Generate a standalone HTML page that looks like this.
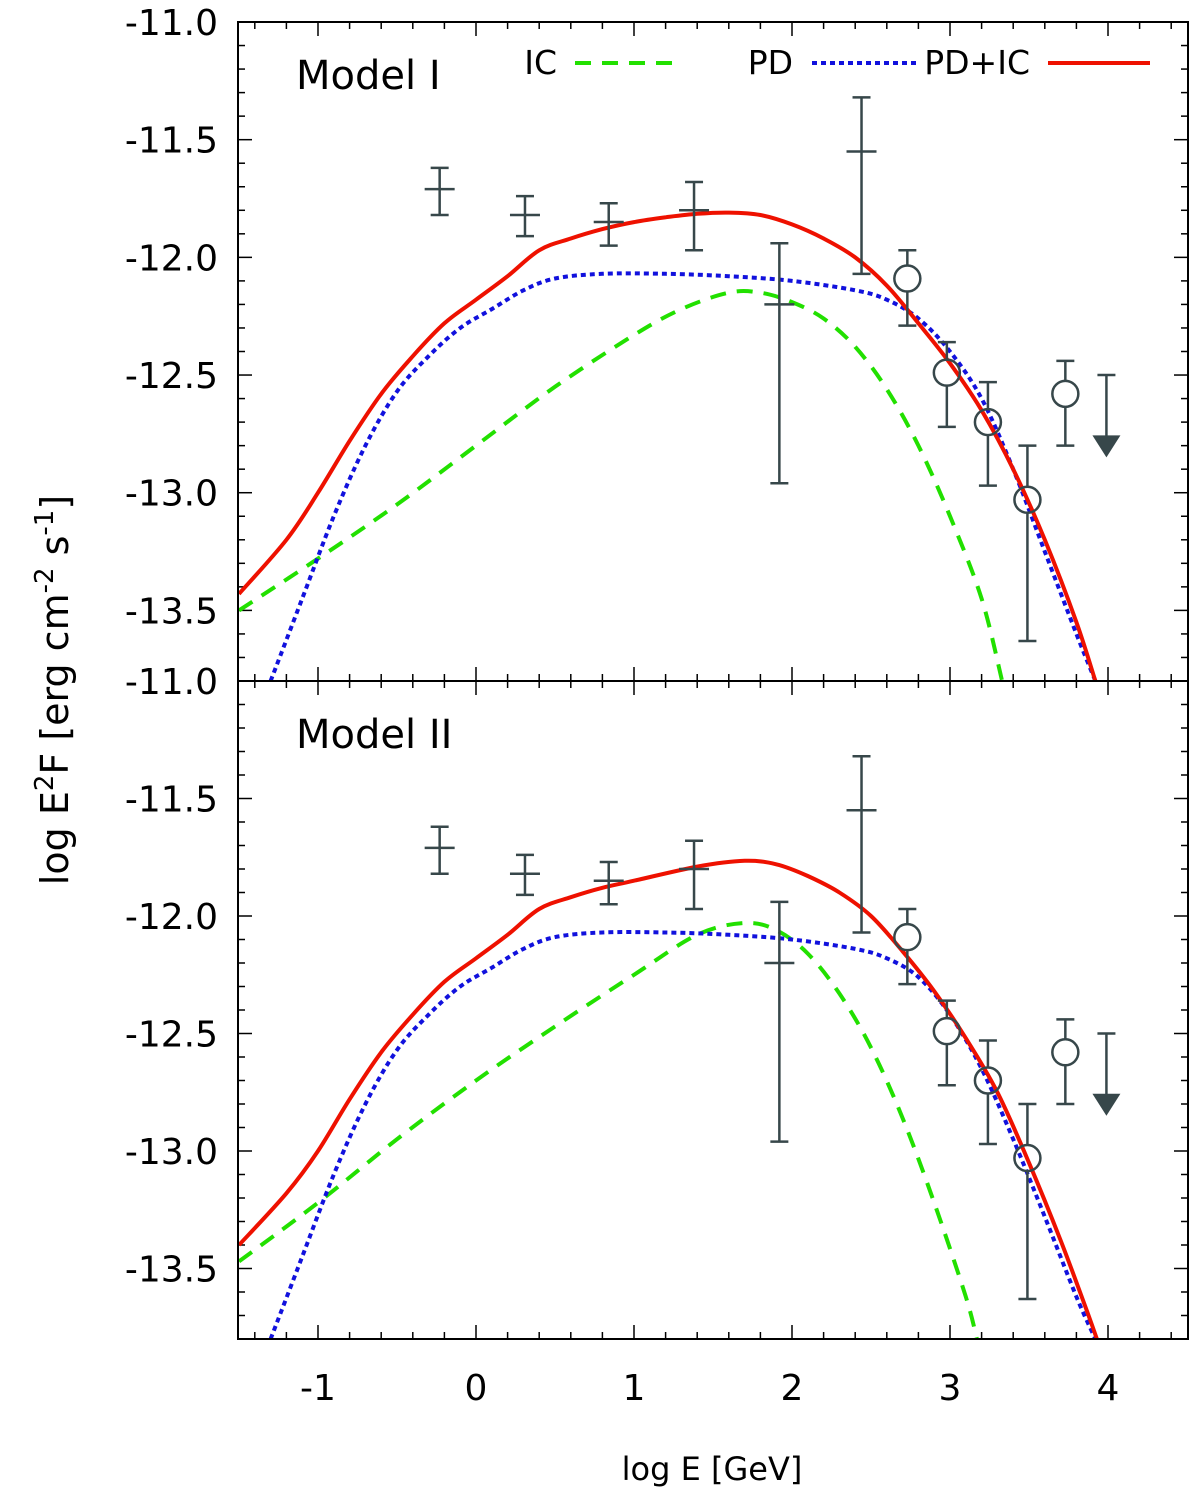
<!DOCTYPE html>
<html><head><meta charset="utf-8">
<style>
html,body{margin:0;padding:0;background:#fff;}
svg{display:block;font-family:"DejaVu Sans","Liberation Sans",sans-serif;}
</style></head>
<body>
<svg id="chart" width="1200" height="1502" viewBox="0 0 1200 1502" xmlns="http://www.w3.org/2000/svg">
<g id="layer"></g>
</svg>
<script>
// ---- data ----
const xTicks = [-1,0,1,2,3,4];
const yTicks = [-11.5,-12.0,-12.5,-13.0,-13.5];
const fermiX = [-0.23,0.31,0.84,1.38,1.92,2.44];
const fermiY = [-11.71,-11.82,-11.85,-11.80,-12.20,-11.55];
const fermiHi = [-11.62,-11.74,-11.77,-11.68,-11.94,-11.32];
const fermiLo = [-11.82,-11.91,-11.95,-11.97,-12.96,-12.07];
const circX = [2.73,2.98,3.24,3.49,3.73];
const circY = [-12.09,-12.49,-12.70,-13.03,-12.58];
const circHi = [-11.97,-12.36,-12.53,-12.80,-12.44];
const circLo = [-12.29,-12.72,-12.97,-13.63,-12.80];
const ulX = [3.99];
const ulY = [-12.50];
const ulTip = [-12.85];

const redX1 = [-1.5,-1.2,-1,-0.8,-0.6,-0.4,-0.2,0,0.2,0.4,0.6,0.8,1,1.2,1.4,1.6,1.8,2.0,2.2,2.4,2.6,2.8,3.0,3.2,3.4,3.6,3.8,3.92];
const redY1 = [-13.43,-13.2,-13.0,-12.78,-12.58,-12.42,-12.28,-12.18,-12.08,-11.97,-11.92,-11.88,-11.85,-11.83,-11.815,-11.81,-11.82,-11.86,-11.92,-12.0,-12.12,-12.28,-12.45,-12.65,-12.9,-13.2,-13.55,-13.8];
const blueX1 = [-1.3,-1.1,-0.9,-0.7,-0.5,-0.3,-0.1,0.1,0.3,0.5,0.8,1.2,1.6,2.0,2.4,2.6,2.8,3.0,3.2,3.4,3.6,3.8,3.92];
const blueY1 = [-13.8,-13.45,-13.1,-12.8,-12.57,-12.42,-12.3,-12.22,-12.14,-12.09,-12.07,-12.07,-12.08,-12.1,-12.14,-12.18,-12.26,-12.4,-12.6,-12.9,-13.25,-13.6,-13.8];
const greenX1 = [-1.5,-1,-0.5,0,0.5,1,1.3,1.6,1.8,2.0,2.2,2.4,2.6,2.8,3.0,3.2,3.33];
const greenY1 = [-13.5,-13.28,-13.05,-12.8,-12.55,-12.33,-12.22,-12.15,-12.15,-12.19,-12.26,-12.38,-12.56,-12.8,-13.1,-13.45,-13.8];

const redX2 = [-1.5,-1.2,-1,-0.8,-0.6,-0.4,-0.2,0,0.2,0.4,0.6,0.8,1,1.4,1.7,1.9,2.1,2.3,2.5,2.7,2.9,3.1,3.3,3.5,3.7,3.85,3.93];
const redY2 = [-13.4,-13.18,-13.0,-12.78,-12.58,-12.42,-12.28,-12.18,-12.08,-11.97,-11.92,-11.88,-11.85,-11.79,-11.765,-11.78,-11.83,-11.9,-12.0,-12.15,-12.32,-12.52,-12.75,-13.05,-13.38,-13.65,-13.8];
const blueX2 = [-1.3,-1.1,-0.9,-0.7,-0.5,-0.3,-0.1,0.1,0.3,0.5,0.8,1.2,1.6,2.0,2.4,2.6,2.8,3.0,3.2,3.4,3.6,3.8,3.92];
const blueY2 = [-13.8,-13.45,-13.1,-12.8,-12.57,-12.42,-12.3,-12.22,-12.14,-12.09,-12.07,-12.07,-12.08,-12.1,-12.14,-12.18,-12.26,-12.42,-12.65,-12.95,-13.28,-13.62,-13.8];
const greenX2 = [-1.5,-1,-0.5,0,0.5,1,1.4,1.7,1.9,2.1,2.3,2.5,2.7,2.9,3.1,3.17];
const greenY2 = [-13.47,-13.22,-12.95,-12.7,-12.47,-12.25,-12.08,-12.03,-12.06,-12.16,-12.33,-12.56,-12.86,-13.22,-13.62,-13.8];

// ---- layout ----
const NS = "http://www.w3.org/2000/svg";
const L = 238, R = 1188;
const X0 = -1.5063, X1 = 4.5063;
const YTOP = -11.0, YBOT = -13.8;
const panels = [{top:22,bot:681,name:"model-1"},{top:681,bot:1339,name:"model-2"}];
const layer = document.getElementById("layer");
function sx(v){return L + (v - X0)/(X1 - X0)*(R - L);}
function mkY(p){return v => p.top + (YTOP - v)/(YTOP - YBOT)*(p.bot - p.top);}
function el(tag, attrs, parent){
  const e = document.createElementNS(NS, tag);
  for (const k in attrs) e.setAttribute(k, attrs[k]);
  (parent||layer).appendChild(e);
  return e;
}
function smooth(pts){
  let d = "M" + pts[0][0].toFixed(1) + "," + pts[0][1].toFixed(1);
  for (let i = 0; i < pts.length - 1; i++) {
    const p0 = pts[Math.max(0, i - 1)], p1 = pts[i], p2 = pts[i + 1], p3 = pts[Math.min(pts.length - 1, i + 2)];
    const c1x = p1[0] + (p2[0] - p0[0]) / 6, c1y = p1[1] + (p2[1] - p0[1]) / 6;
    const c2x = p2[0] - (p3[0] - p1[0]) / 6, c2y = p2[1] - (p3[1] - p1[1]) / 6;
    d += " C" + c1x.toFixed(1) + "," + c1y.toFixed(1) + " " + c2x.toFixed(1) + "," + c2y.toFixed(1) + " " + p2[0].toFixed(1) + "," + p2[1].toFixed(1);
  }
  return d;
}
const axisCol = "#000";
const dataCol = "#37474a";

const series = [
  [greenX1,greenY1,redX1,redY1,blueX1,blueY1],
  [greenX2,greenY2,redX2,redY2,blueX2,blueY2]
];

panels.forEach((p, pi) => {
  const sy = mkY(p);
  const g = el("g", {});
  
  
  const cid = "clip" + pi;
  const cp = el("clipPath", {id: cid}, g);
  el("rect", {x: L, y: p.top, width: R - L, height: p.bot - p.top}, cp);

  for (let k = -7; k <= 22; k++) {
    const v = k * 0.2;
    const major = k % 5 === 0;
    const len = major ? 14 : 7;
    const x = sx(v);
    const t1 = el("line", {x1: x, x2: x, y1: p.bot, y2: p.bot - len, stroke: axisCol, "stroke-width": 1.5}, g);
    
    
    const t2 = el("line", {x1: x, x2: x, y1: p.top, y2: p.top + len, stroke: axisCol, "stroke-width": 1.5}, g);
    
    
  }
  for (let k = 0; k <= 28; k++) {
    const v = YTOP - k * 0.1;
    const major = k % 5 === 0;
    const len = major ? 14 : 7;
    const y = sy(v);
    const t = el("line", {x1: L, x2: L + len, y1: y, y2: y, stroke: axisCol, "stroke-width": 1.5}, g);
    
    
    const t2 = el("line", {x1: R, x2: R - len, y1: y, y2: y, stroke: axisCol, "stroke-width": 1.5}, g);
    
    
  }
  yTicks.forEach(v => {
    const t = el("text", {x: L - 20, y: sy(v) + 13, "text-anchor": "end", "font-size": 36}, g);
    t.textContent = v.toFixed(1);
    
    
  });
  const topLab = el("text", {x: L - 20, y: p.top + 13, "text-anchor": "end", "font-size": 36}, g);
  topLab.textContent = "-11.0";
  
  

  const s = series[pi];
  const cols = ["#22e000", "#ee1100", "#1111dd"];
  const dash = ["16,11", "none", "5,4"];
  const names = ["ic-curve", "pd-ic-curve", "pd-curve"];
  const cg = el("g", {"clip-path": "url(#" + cid + ")"}, g);
  [[s[0],s[1],0],[s[4],s[5],2],[s[2],s[3],1]].forEach(([xs, ys, ci]) => {
    const pts = xs.map((x, i) => [sx(x), sy(ys[i])]);
    const path = el("path", {d: smooth(pts), fill: "none", stroke: cols[ci], "stroke-width": 4, "stroke-dasharray": dash[ci]}, cg);
    
    
  });

  fermiX.forEach((x, i) => {
    const X = sx(x);
    const pg = el("g", {stroke: dataCol, "stroke-width": 2.5}, g);
    
    
    el("line", {x1: X, x2: X, y1: sy(fermiHi[i]), y2: sy(fermiLo[i])}, pg);
    el("line", {x1: X - 9, x2: X + 9, y1: sy(fermiHi[i]), y2: sy(fermiHi[i])}, pg);
    el("line", {x1: X - 9, x2: X + 9, y1: sy(fermiLo[i]), y2: sy(fermiLo[i])}, pg);
    el("line", {x1: X - 15, x2: X + 15, y1: sy(fermiY[i]), y2: sy(fermiY[i])}, pg);
  });
  circX.forEach((x, i) => {
    const X = sx(x);
    const pg = el("g", {stroke: dataCol, "stroke-width": 2.5, fill: "none"}, g);
    
    
    const Y = sy(circY[i]);
    el("line", {x1: X, x2: X, y1: sy(circHi[i]), y2: Y - 13}, pg);
    el("line", {x1: X, x2: X, y1: Y + 13, y2: sy(circLo[i])}, pg);
    el("line", {x1: X - 9, x2: X + 9, y1: sy(circHi[i]), y2: sy(circHi[i])}, pg);
    el("line", {x1: X - 9, x2: X + 9, y1: sy(circLo[i]), y2: sy(circLo[i])}, pg);
    el("circle", {cx: X, cy: Y, r: 13}, pg);
  });
  ulX.forEach((x, i) => {
    const X = sx(x);
    const pg = el("g", {stroke: dataCol, "stroke-width": 2.5, fill: dataCol}, g);
    
    
    const Y0 = sy(ulY[i]), Yt = sy(ulTip[i]);
    el("line", {x1: X - 9, x2: X + 9, y1: Y0, y2: Y0}, pg);
    el("line", {x1: X, x2: X, y1: Y0, y2: Yt - 20}, pg);
    el("polygon", {points: (X - 14) + "," + (Yt - 22) + " " + (X + 14) + "," + (Yt - 22) + " " + X + "," + Yt, stroke: "none"}, pg);
  });

  const fr = el("rect", {x: L, y: p.top, width: R - L, height: p.bot - p.top, fill: "none", stroke: axisCol, "stroke-width": 2}, g);
  
  

  const title = el("text", {x: 296, y: p.top + 67, "font-size": 40, fill: "#000"}, g);
  title.textContent = pi === 0 ? "Model I" : "Model II";
  
  
});

xTicks.forEach(v => {
  const t = el("text", {x: sx(v), y: 1400, "text-anchor": "middle", "font-size": 36});
  t.textContent = String(v);
  
  
});
</script>
<svg style="position:absolute;left:0;top:0" width="1200" height="1502" xmlns="http://www.w3.org/2000/svg">
  <g font-family="DejaVu Sans, Liberation Sans, sans-serif" font-size="33">
    <text x="557" y="74" text-anchor="end">IC</text>
    <line x1="575" y1="63" x2="680" y2="63" stroke="#22e000" stroke-width="4" stroke-dasharray="16,11"/>
    <text x="793" y="74" text-anchor="end">PD</text>
    <line x1="812" y1="63" x2="916" y2="63" stroke="#1111dd" stroke-width="4" stroke-dasharray="5,4"/>
    <text x="1030" y="74" text-anchor="end">PD+IC</text>
    <line x1="1048" y1="63" x2="1150" y2="63" stroke="#ee1100" stroke-width="4"/>
  </g>
  <text x="712" y="1480" text-anchor="middle" font-size="32" font-family="DejaVu Sans, Liberation Sans, sans-serif">log E [GeV]</text>
  <text transform="translate(68,690) rotate(-90)" text-anchor="middle" font-size="38" font-family="DejaVu Sans, Liberation Sans, sans-serif">log E<tspan dy="-15" font-size="26">2</tspan><tspan dy="15">F [erg cm</tspan><tspan dy="-15" font-size="26">-2</tspan><tspan dy="15"> s</tspan><tspan dy="-15" font-size="26">-1</tspan><tspan dy="15">]</tspan></text>
</svg>
</body></html>
